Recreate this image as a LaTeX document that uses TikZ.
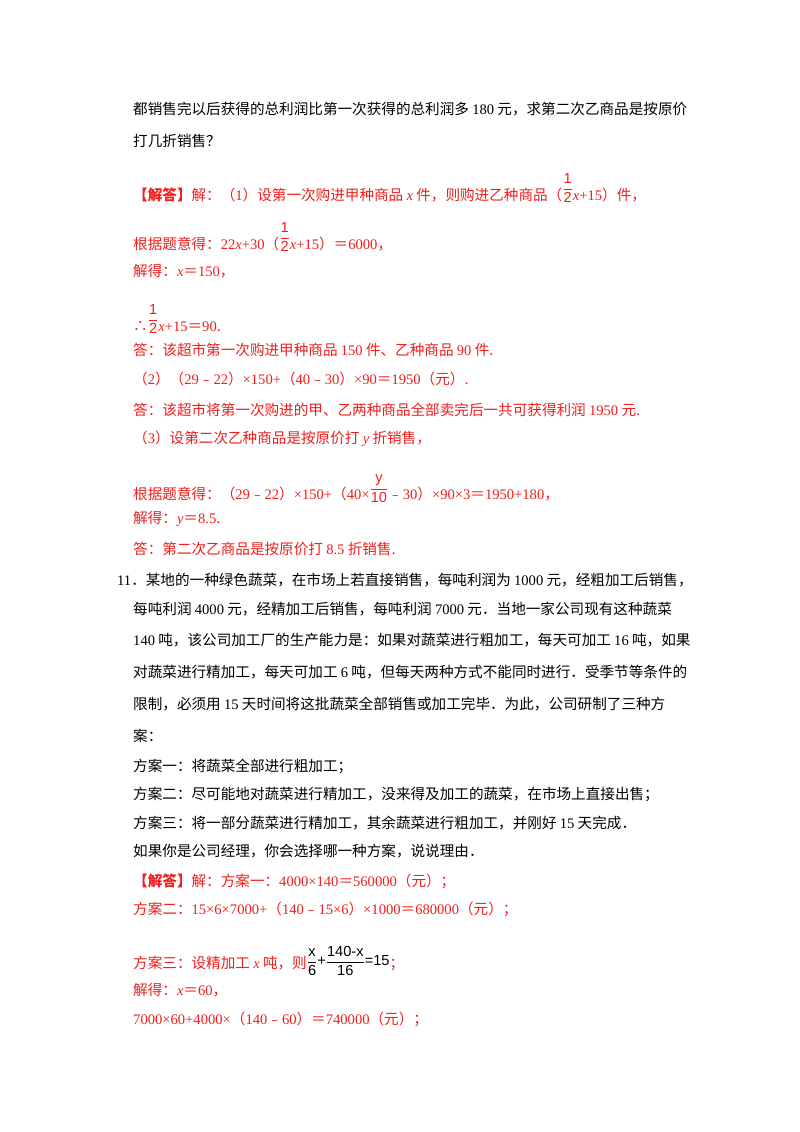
\documentclass[tikz,border=0pt]{standalone}
\usepackage{amsmath}
\usepackage{fontspec}
\setmainfont{Noto Sans CJK SC}
\newfontfamily\tm{Liberation Serif}
\newfontfamily\ar{Liberation Sans}
\newcommand\T[1]{{\tm #1}}
\newcommand\I[1]{{\tm\itshape #1}}
\newcommand\fr[2]{\raisebox{0.9ex}{$\genfrac{}{}{0.6pt}{0}{\text{\ar #1}}{\text{\ar #2}}$}}
\definecolor{ans}{RGB}{240,30,30}
\begin{document}
\begin{tikzpicture}[x=1pt,y=-1pt,
  ln/.style={anchor=west,inner sep=0pt,font=\fontsize{14.6}{18}\selectfont},
  rd/.style={ln,text=ans}]
\useasboundingbox (0,0) rectangle (800,1132);
\fill[white] (0,0) rectangle (800,1132);
\node[ln] (l1) at (133,109) {都销售完以后获得的总利润比第一次获得的总利润多 \T{180} 元，求第二次乙商品是按原价};
\node[ln] (l2) at (133,141) {打几折销售？};
\node[rd] (l3) at (133,188) {{\bfseries【解答】}解：（\T{1}）设第一次购进甲种商品 \I{x} 件，则购进乙种商品（\fr{1}{2}\I{x}\T{+15}）件，};
\node[rd] (l4) at (133,237) {根据题意得：\T{22}\I{x}\T{+30}（\fr{1}{2}\I{x}\T{+15}）＝\T{6000}，};
\node[rd] (l5) at (133,271) {解得：\I{x}＝\T{150}，};
\node[rd] (l6) at (133,319) {∴\fr{1}{2}\I{x}\T{+15}＝\T{90}.};
\node[rd] (l7) at (133,350) {答：该超市第一次购进甲种商品 \T{150} 件、乙种商品 \T{90} 件.};
\node[rd] (l8) at (133,379) {（\T{2}）（\T{29}﹣\T{22}）\T{×150+}（\T{40}﹣\T{30}）\T{×90}＝\T{1950}（元）.};
\node[rd] (l9) at (133,410) {答：该超市将第一次购进的甲、乙两种商品全部卖完后一共可获得利润 \T{1950} 元.};
\node[rd] (l10) at (133,439) {（\T{3}）设第二次乙种商品是按原价打 \I{y} 折销售，};
\node[rd] (l11) at (133,489) {根据题意得：（\T{29}﹣\T{22}）\T{×150+}（\T{40×}\fr{y}{10}﹣\T{30}）\T{×90×3}＝\T{1950+180}，};
\node[rd] (l12) at (133,519) {解得：\I{y}＝\T{8.5}.};
\node[rd] (l13) at (133,549) {答：第二次乙商品是按原价打 \T{8.5} 折销售.};
\node[ln] (l14) at (117,580) {\T{11}．某地的一种绿色蔬菜，在市场上若直接销售，每吨利润为 \T{1000} 元，经粗加工后销售，};
\node[ln] (l15) at (133,609) {每吨利润 \T{4000} 元，经精加工后销售，每吨利润 \T{7000} 元．当地一家公司现有这种蔬菜};
\node[ln] (l16) at (133,640) {\T{140} 吨，该公司加工厂的生产能力是：如果对蔬菜进行粗加工，每天可加工 \T{16} 吨，如果};
\node[ln] (l17) at (133,672) {对蔬菜进行精加工，每天可加工 \T{6} 吨，但每天两种方式不能同时进行．受季节等条件的};
\node[ln] (l18) at (133,704) {限制，必须用 \T{15} 天时间将这批蔬菜全部销售或加工完毕．为此，公司研制了三种方};
\node[ln] (l19) at (133,736) {案：};
\node[ln] (l20) at (133,766) {方案一：将蔬菜全部进行粗加工；};
\node[ln] (l21) at (133,794) {方案二：尽可能地对蔬菜进行精加工，没来得及加工的蔬菜，在市场上直接出售；};
\node[ln] (l22) at (133,823) {方案三：将一部分蔬菜进行精加工，其余蔬菜进行粗加工，并刚好 \T{15} 天完成．};
\node[ln] (l23) at (133,851) {如果你是公司经理，你会选择哪一种方案，说说理由．};
\node[rd] (l24) at (133,881) {{\bfseries【解答】}解：方案一：\T{4000×140}＝\T{560000}（元）；};
\node[rd] (l25) at (133,909) {方案二：\T{15×6×7000+}（\T{140}﹣\T{15×6}）\T{×1000}＝\T{680000}（元）；};
\node[rd] (l26) at (133,961) {方案三：设精加工 \I{x} 吨，则{\color{black}\raisebox{0.3ex}{$\genfrac{}{}{0.5pt}{0}{\text{\ar x}}{\text{\ar 6}}\text{\ar +}\genfrac{}{}{0.5pt}{0}{\text{\ar 140-x}}{\text{\ar 16}}\text{\ar =15}$}}；};
\node[rd] (l27) at (133,990) {解得：\I{x}＝\T{60}，};
\node[rd] (l28) at (133,1019) {\T{7000×60+4000×}（\T{140}﹣\T{60}）＝\T{740000}（元）；};
\end{tikzpicture}
\end{document}
